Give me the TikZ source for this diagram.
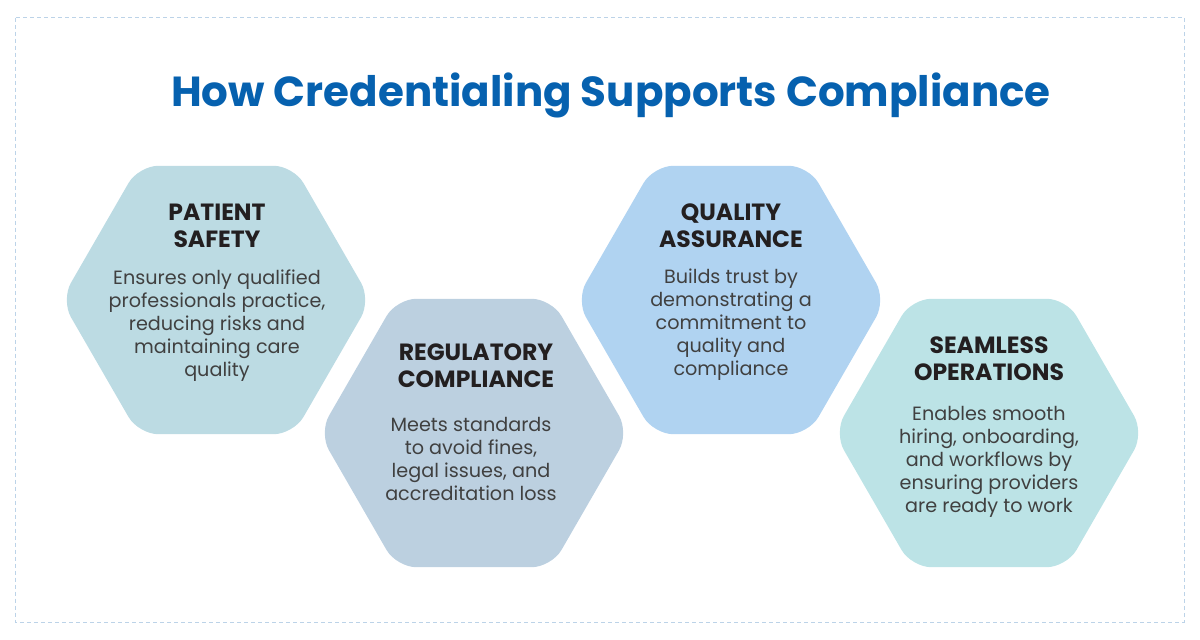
\documentclass[tikz,border=0pt]{standalone}
\usepackage{xcolor}
\usepackage{fontspec}
\setmainfont{Poppins}
\usepackage{tikz}
\usetikzlibrary{shapes.geometric}
\definecolor{titleblue}{HTML}{0661AF}
\definecolor{headdark}{HTML}{231F20}
\definecolor{bodygrey}{HTML}{404040}
\definecolor{frameblue}{HTML}{BCD3E8}
\definecolor{safetyteal}{HTML}{BCDBE3}
\definecolor{regslate}{HTML}{BCD0E0}
\definecolor{qualblue}{HTML}{B0D3F1}
\definecolor{seamcyan}{HTML}{BCE3E6}

\begin{document}
\begin{tikzpicture}[x=1pt,y=-1pt,
  hexa/.style={regular polygon,regular polygon sides=6,minimum size=310pt,inner sep=0pt,rounded corners=20pt},
  headtext/.style={align=center,inner sep=0pt,text=headdark,font=\fontsize{23.5}{27}\selectfont\bfseries},
  bodytext/.style={align=center,inner sep=0pt,text=bodygrey,font=\fontsize{19.2}{23}\selectfont}]
  \useasboundingbox (0,0) rectangle (1200,640);

  % Frame and title
  \draw[frameblue,line width=1pt,dash pattern=on 4pt off 3pt] (15.5,17.5) rectangle (1184,622);
  \node[text=titleblue,font=\fontsize{42}{48}\selectfont\bfseries] (title) at (611,95) {How Credentialing Supports Compliance};

  % Hexagons
  \node[hexa,fill=safetyteal] (safety) at (216,300) {};
  \node[hexa,fill=regslate]   (regul)  at (474,433) {};
  \node[hexa,fill=qualblue]   (qual)   at (731,300) {};
  \node[hexa,fill=seamcyan]   (seam)   at (989,433) {};

  % Texts
  \node[headtext] (safetyhead) at (217,226) {PATIENT\\SAFETY};
  \node[bodytext] (safetybody) at (217,326) {Ensures only qualified\\professionals practice,\\reducing risks and\\maintaining care\\quality};

  \node[headtext] (regulhead) at (476,366) {REGULATORY\\COMPLIANCE};
  \node[bodytext] (regulbody) at (471,459) {Meets standards\\to avoid fines,\\legal issues, and\\accreditation loss};

  \node[headtext] (qualhead) at (731,226) {QUALITY\\ASSURANCE};
  \node[bodytext] (qualbody) at (731,325) {Builds trust by\\demonstrating a\\commitment to\\quality and\\compliance};

  \node[headtext] (seamhead) at (989,359) {SEAMLESS\\OPERATIONS};
  \node[bodytext] (seambody) at (989,462) {Enables smooth\\hiring, onboarding,\\and workflows by\\ensuring providers\\are ready to work};
\end{tikzpicture}
\end{document}
